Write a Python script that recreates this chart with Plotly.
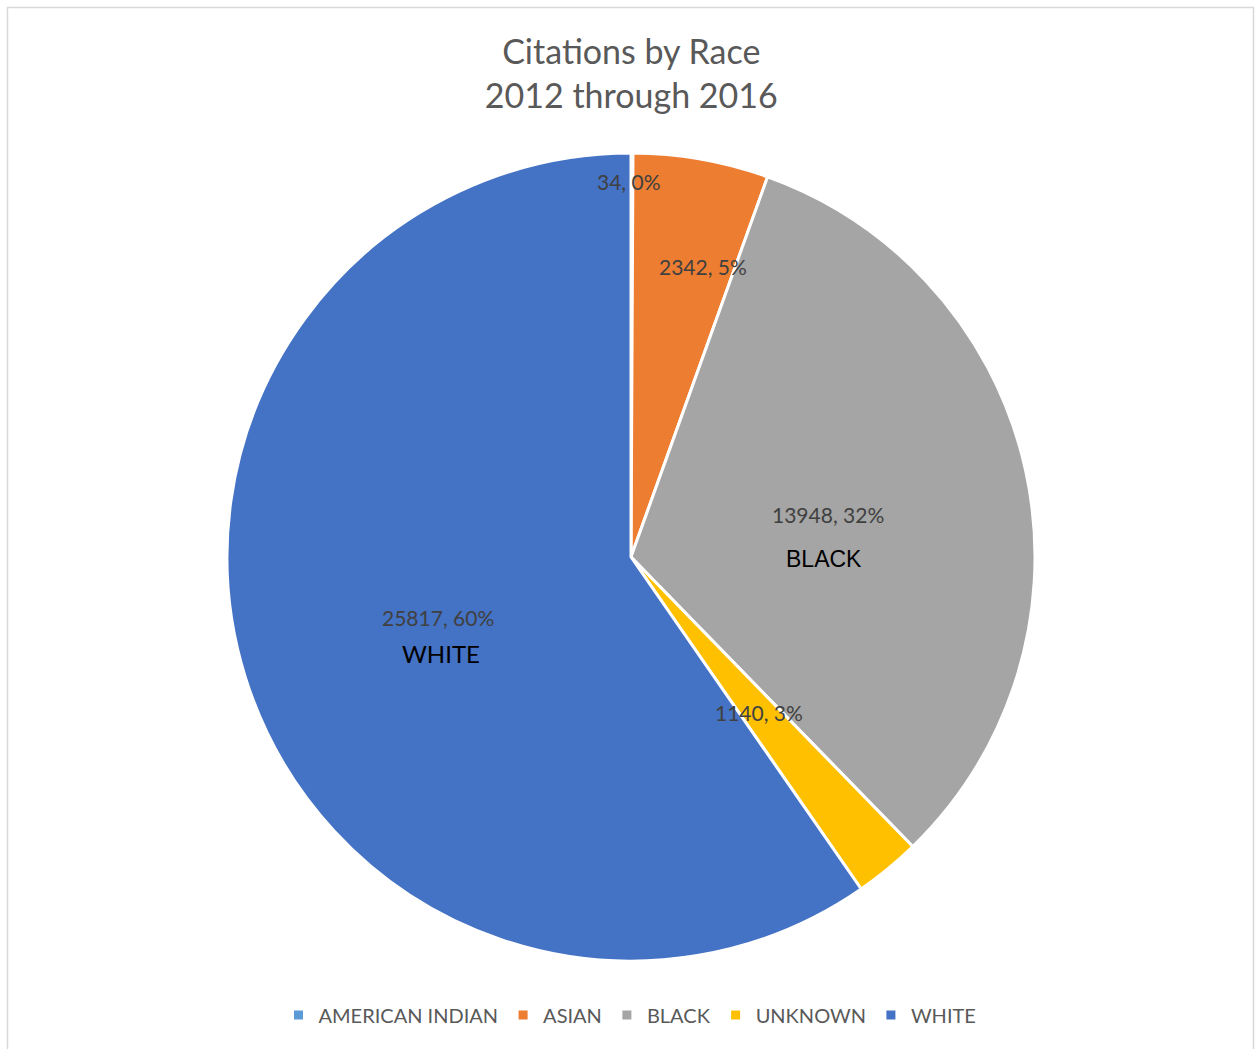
import math
import plotly.graph_objects as go

# Citation counts by race, 2012-2016
races = ["AMERICAN INDIAN", "ASIAN", "BLACK", "UNKNOWN", "WHITE"]
citations = [34, 2342, 13948, 1140, 25817]
colors = ["#5B9BD5", "#ED7D31", "#A5A5A5", "#FFC000", "#4472C4"]

# where each data label sits: fraction of the radius, and angular nudge (deg)
label_radius = [0.93, 0.74, 0.50, 0.50, 0.50]
label_nudge = [-0.5, 4.0, 0.0, 0.0, 0.0]
# slices that also carry their category name under the value label:
# (pixel offset from the value label, font family, size)
named_slices = {
    "BLACK": (-4, 45, "'Liberation Sans', Arial, sans-serif", 23),
    "WHITE": (3, 36, "Lato, sans-serif", 24),
}

W, H = 1255, 1049
FONT = "Lato, 'Open Sans', sans-serif"

# pie placement in pixels
cx, cy, r = 631, 557, 404
dom_x = [(cx - r) / W, (cx + r) / W]
dom_y = [(H - (cy + r)) / H, (H - (cy - r)) / H]

fig = go.Figure(
    go.Pie(
        labels=races,
        values=citations,
        sort=False,
        direction="clockwise",
        rotation=0,
        marker=dict(colors=colors, line=dict(color="white", width=3)),
        textinfo="none",
        hoverinfo="label+value+percent",
        domain=dict(x=dom_x, y=dom_y),
    )
)

total = sum(citations)
annotations = []
cum = 0.0
for name, v, rf, nudge in zip(races, citations, label_radius, label_nudge):
    mid = (cum + v / 2) / total * 360 + nudge
    cum += v
    a = math.radians(mid)
    px = cx + rf * r * math.sin(a)
    py = cy - rf * r * math.cos(a)
    pct = round(v / total * 100)
    annotations.append(dict(
        x=px / W, y=1 - py / H, xref="paper", yref="paper",
        text=f"{v}, {pct}%", showarrow=False,
        font=dict(family=FONT, size=21, color="#404040"),
        xanchor="center", yanchor="middle",
    ))
    if name in named_slices:
        ox, oy, fam, fs = named_slices[name]
        annotations.append(dict(
            x=(px + ox) / W, y=1 - (py + oy) / H, xref="paper", yref="paper",
            text=name, showarrow=False,
            font=dict(family=fam, size=fs, color="#000000"),
            xanchor="center", yanchor="middle",
        ))

fig.update_layout(
    width=W, height=H,
    margin=dict(l=0, r=0, t=0, b=0),
    paper_bgcolor="white",
    title=dict(
        text="Citations by Race<br>2012 through 2016",
        x=0.503, xanchor="center", y=1 - 64 / H, yanchor="top",
        font=dict(family=FONT, size=34, color="#595959"),
    ),
    legend=dict(
        orientation="h", x=0.502, xanchor="center", y=1 - 1015 / H, yanchor="middle",
        font=dict(family=FONT, size=20, color="#595959"),
        traceorder="normal", itemclick=False,
    ),
    annotations=annotations,
    shapes=[dict(
        type="rect", xref="paper", yref="paper",
        x0=7.5 / W, x1=1253.5 / W, y0=-0.02, y1=1 - 7.5 / H,
        line=dict(color="#D9D9D9", width=1.5), fillcolor="rgba(0,0,0,0)",
    )],
)

fig.write_html("out.html")
